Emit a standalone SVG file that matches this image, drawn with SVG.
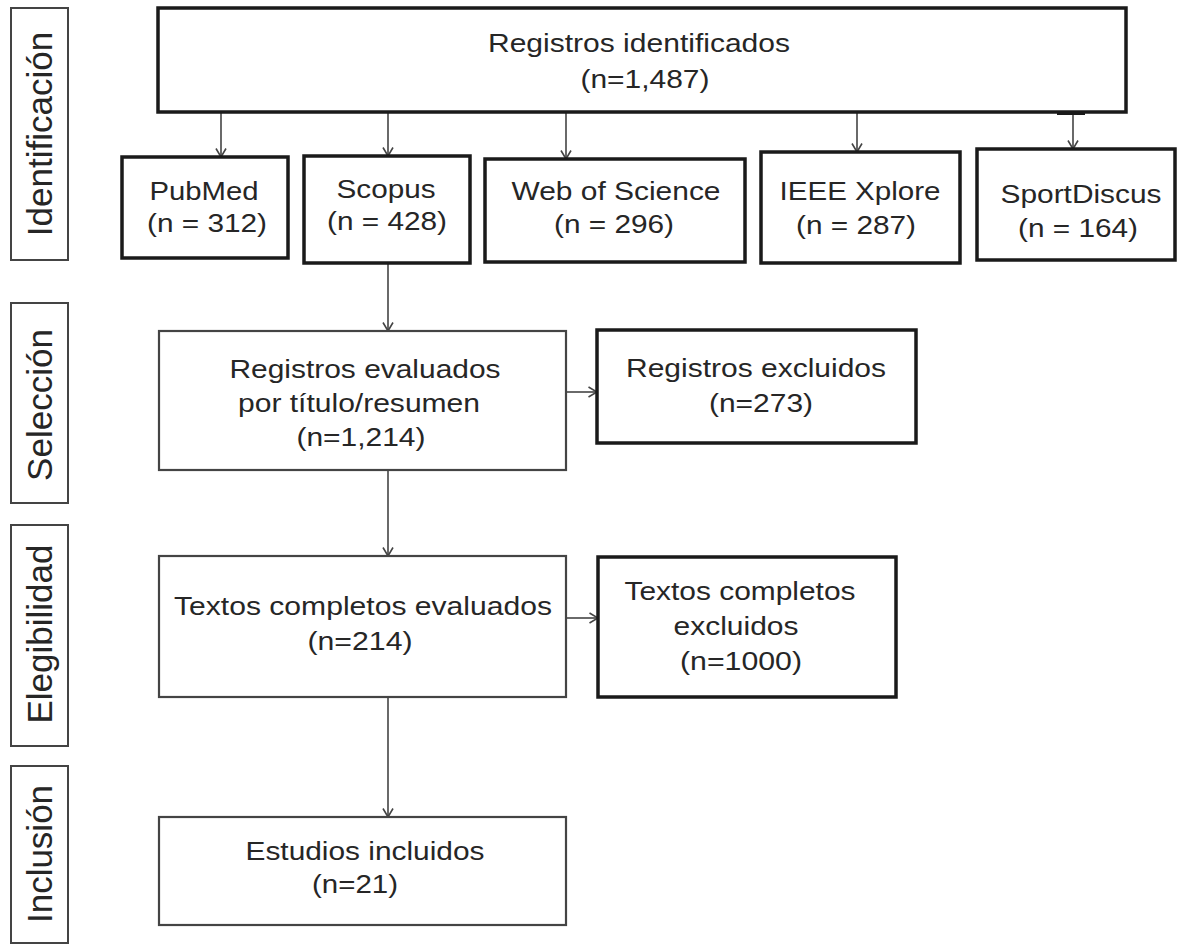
<svg xmlns="http://www.w3.org/2000/svg" width="1178" height="945" viewBox="0 0 1178 945">
<defs>
<style>
.t{font-family:"Liberation Sans",Arial,sans-serif;font-size:26px;fill:#262626;text-anchor:middle}
.s{font-family:"Liberation Sans",Arial,sans-serif;font-size:35px;fill:#262626;text-anchor:middle}
.thick{fill:#fff;stroke:#1a1a1a;stroke-width:3.5}
.thin{fill:#fff;stroke:#444;stroke-width:2.2}
.side{fill:#fff;stroke:#444;stroke-width:2}
.c{fill:none;stroke:#444;stroke-width:1.6}
</style>
<marker id="ah" markerUnits="userSpaceOnUse" viewBox="0 0 10 12" refX="9.5" refY="6" markerWidth="10" markerHeight="12" orient="auto">
<path d="M1,1 L9.5,6 L1,11" fill="none" stroke="#444" stroke-width="1.6"/>
</marker>
</defs>
<rect width="1178" height="945" fill="#fff"/>

<g id="connectors">
<line class="c" x1="221" y1="112" x2="221" y2="157" marker-end="url(#ah)"/>
<line class="c" x1="388" y1="112" x2="388" y2="156" marker-end="url(#ah)"/>
<line class="c" x1="566" y1="112" x2="566" y2="159" marker-end="url(#ah)"/>
<line class="c" x1="857" y1="112" x2="857" y2="152" marker-end="url(#ah)"/>
<line class="c" x1="1073" y1="112" x2="1073" y2="149" marker-end="url(#ah)"/>
<line x1="1057" y1="113" x2="1085" y2="113" stroke="#1a1a1a" stroke-width="4"/>
<line class="c" x1="388" y1="263" x2="388" y2="331" marker-end="url(#ah)"/>
<line class="c" x1="566" y1="392" x2="597" y2="392" marker-end="url(#ah)"/>
<line class="c" x1="388" y1="470" x2="388" y2="556" marker-end="url(#ah)"/>
<line class="c" x1="566" y1="618" x2="598" y2="618" marker-end="url(#ah)"/>
<line class="c" x1="388" y1="697" x2="388" y2="817" marker-end="url(#ah)"/>
</g>

<g id="side-identificacion">
<rect class="side" x="11" y="8" width="57" height="252"/>
<text class="s" transform="translate(52,134) rotate(-90)">Identificación</text>
</g>
<g id="side-seleccion">
<rect class="side" x="11" y="303" width="57" height="200"/>
<text class="s" transform="translate(52,405) rotate(-90)">Selección</text>
</g>
<g id="side-elegibilidad">
<rect class="side" x="11" y="525" width="57" height="221"/>
<text class="s" transform="translate(52,634) rotate(-90)">Elegibilidad</text>
</g>
<g id="side-inclusion">
<rect class="side" x="11" y="766" width="57" height="177"/>
<text class="s" transform="translate(52,854) rotate(-90)">Inclusión</text>
</g>

<g id="registros-identificados">
<rect class="thick" x="158" y="8" width="968" height="104"/>
<text class="t" x="639" y="52" textLength="302" lengthAdjust="spacingAndGlyphs">Registros identificados</text>
<text class="t" x="645" y="88" textLength="129" lengthAdjust="spacingAndGlyphs">(n=1,487)</text>
</g>

<g id="pubmed">
<rect class="thick" x="122" y="157" width="166" height="101"/>
<text class="t" x="204" y="200" textLength="109" lengthAdjust="spacingAndGlyphs">PubMed</text>
<text class="t" x="207" y="232" textLength="120" lengthAdjust="spacingAndGlyphs">(n = 312)</text>
</g>
<g id="scopus">
<rect class="thick" x="304" y="156" width="166" height="107"/>
<text class="t" x="386" y="198" textLength="99" lengthAdjust="spacingAndGlyphs">Scopus</text>
<text class="t" x="387" y="230" textLength="120" lengthAdjust="spacingAndGlyphs">(n = 428)</text>
</g>
<g id="web-of-science">
<rect class="thick" x="485" y="159" width="260" height="103"/>
<text class="t" x="616" y="200" textLength="209" lengthAdjust="spacingAndGlyphs">Web of Science</text>
<text class="t" x="614" y="233" textLength="120" lengthAdjust="spacingAndGlyphs">(n = 296)</text>
</g>
<g id="ieee-xplore">
<rect class="thick" x="761" y="152" width="199" height="111"/>
<text class="t" x="860" y="200" textLength="161" lengthAdjust="spacingAndGlyphs">IEEE Xplore</text>
<text class="t" x="856" y="234" textLength="120" lengthAdjust="spacingAndGlyphs">(n = 287)</text>
</g>
<g id="sportdiscus">
<rect class="thick" x="977" y="149" width="198" height="111"/>
<text class="t" x="1081" y="203" textLength="161" lengthAdjust="spacingAndGlyphs">SportDiscus</text>
<text class="t" x="1078" y="237" textLength="120" lengthAdjust="spacingAndGlyphs">(n = 164)</text>
</g>

<g id="registros-evaluados">
<rect class="thin" x="159" y="331" width="407" height="139"/>
<text class="t" x="365" y="378" textLength="271" lengthAdjust="spacingAndGlyphs">Registros evaluados</text>
<text class="t" x="359" y="412" textLength="242" lengthAdjust="spacingAndGlyphs">por título/resumen</text>
<text class="t" x="361" y="446" textLength="129" lengthAdjust="spacingAndGlyphs">(n=1,214)</text>
</g>
<g id="registros-excluidos">
<rect class="thick" x="597" y="330" width="319" height="113"/>
<text class="t" x="756" y="377" textLength="260" lengthAdjust="spacingAndGlyphs">Registros excluidos</text>
<text class="t" x="761" y="412" textLength="104" lengthAdjust="spacingAndGlyphs">(n=273)</text>
</g>

<g id="textos-evaluados">
<rect class="thin" x="159" y="556" width="407" height="141"/>
<text class="t" x="363" y="615" textLength="378" lengthAdjust="spacingAndGlyphs">Textos completos evaluados</text>
<text class="t" x="360" y="650" textLength="105" lengthAdjust="spacingAndGlyphs">(n=214)</text>
</g>
<g id="textos-excluidos">
<rect class="thick" x="598" y="557" width="298" height="140"/>
<text class="t" x="740" y="600" textLength="231" lengthAdjust="spacingAndGlyphs">Textos completos</text>
<text class="t" x="736" y="635" textLength="125" lengthAdjust="spacingAndGlyphs">excluidos</text>
<text class="t" x="741" y="670" textLength="122" lengthAdjust="spacingAndGlyphs">(n=1000)</text>
</g>

<g id="estudios-incluidos">
<rect class="thin" x="159" y="817" width="407" height="108"/>
<text class="t" x="365" y="860" textLength="239" lengthAdjust="spacingAndGlyphs">Estudios incluidos</text>
<text class="t" x="355" y="893" textLength="86" lengthAdjust="spacingAndGlyphs">(n=21)</text>
</g>
</svg>
